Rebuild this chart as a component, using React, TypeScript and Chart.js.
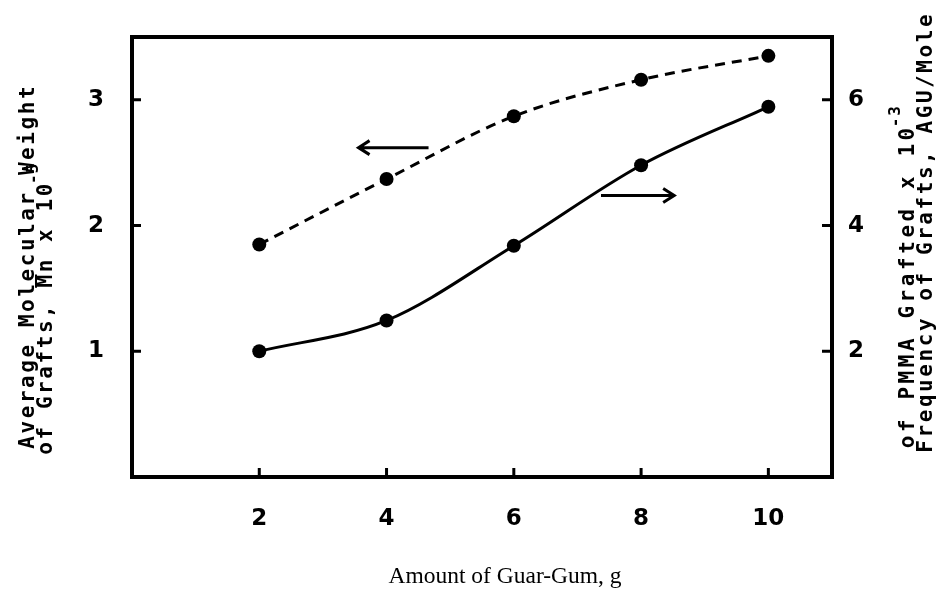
import { useEffect, useRef } from "react";
import { Chart, registerables } from "chart.js";

Chart.register(...registerables);

// Amount of guar gum (g)
const guarGum = [2, 4, 6, 8, 10];
// Average molecular weight of grafts, Mn x 10^-5 (left axis, dashed)
const molWeight = [1.85, 2.37, 2.87, 3.16, 3.35];
// Frequency of grafts, AGU/mole of PMMA grafted x 10^-3 (right axis, solid)
const graftFreq = [2.0, 2.49, 3.68, 4.96, 5.89];

const xTicks = [2, 4, 6, 8, 10];
const leftTicks = [1, 2, 3];
const rightTicks = [2, 4, 6];

// Arrows telling which axis each curve belongs to: [xFrom, xTo, y]
const leftArrow = [4.66, 3.56, 2.62];
const rightArrow = [7.37, 8.52, 4.48];

const INK = "#000";
const TYPE_FONT = '"DejaVu Sans Mono", "Liberation Mono", monospace';
const TICK_FONT = '"DejaVu Sans", "Liberation Sans", sans-serif';

function drawSpaced(
  ctx: CanvasRenderingContext2D,
  text: string,
  startX: number,
  pitch: number
) {
  for (let i = 0; i < text.length; i++) {
    ctx.fillText(text[i], startX + i * pitch + pitch / 2, 0);
  }
  return startX + text.length * pitch;
}

// Rotated (bottom-to-top) typewriter-style title line with optional superscript
function verticalLine(
  ctx: CanvasRenderingContext2D,
  text: string,
  sup: string,
  cx: number,
  bottomY: number,
  pitch: number,
  overbarAt = -1
) {
  ctx.save();
  ctx.translate(cx, bottomY);
  ctx.rotate(-Math.PI / 2);
  ctx.font = `bold 21px ${TYPE_FONT}`;
  ctx.textAlign = "center";
  ctx.textBaseline = "middle";
  ctx.fillStyle = INK;
  const end = drawSpaced(ctx, text, 0, pitch);
  if (overbarAt >= 0) {
    ctx.strokeStyle = INK;
    ctx.lineWidth = 2;
    ctx.beginPath();
    ctx.moveTo(overbarAt * pitch + 1, -11);
    ctx.lineTo(overbarAt * pitch + pitch - 1, -11);
    ctx.stroke();
  }
  if (sup) {
    ctx.font = `bold 16px ${TYPE_FONT}`;
    ctx.save();
    ctx.translate(0, -13);
    drawSpaced(ctx, sup, end - 2, pitch * 0.7);
    ctx.restore();
  }
  ctx.restore();
}

const decorations = {
  id: "frameAndLabels",
  afterDraw(chart: any) {
    const { ctx, chartArea: a, scales } = chart;
    const sx = scales.x;
    const sl = scales.y;
    const sr = scales.y1;
    ctx.save();
    ctx.strokeStyle = INK;
    ctx.fillStyle = INK;
    ctx.lineCap = "butt";

    // frame
    ctx.lineWidth = 4;
    ctx.strokeRect(a.left, a.top, a.right - a.left, a.bottom - a.top);

    // inward tick marks
    ctx.lineWidth = 3;
    ctx.beginPath();
    for (const v of xTicks) {
      const px = sx.getPixelForValue(v);
      ctx.moveTo(px, a.bottom);
      ctx.lineTo(px, a.bottom - 9);
    }
    for (const v of leftTicks) {
      const py = sl.getPixelForValue(v);
      ctx.moveTo(a.left, py);
      ctx.lineTo(a.left + 9, py);
    }
    for (const v of rightTicks) {
      const py = sr.getPixelForValue(v);
      ctx.moveTo(a.right, py);
      ctx.lineTo(a.right - 10, py);
    }
    ctx.stroke();

    // tick labels
    ctx.font = `bold 23px ${TICK_FONT}`;
    ctx.textAlign = "center";
    ctx.textBaseline = "middle";
    for (const v of xTicks) {
      ctx.fillText(String(v), sx.getPixelForValue(v), a.bottom + 42);
    }
    for (const v of leftTicks) {
      ctx.fillText(String(v), a.left - 36, sl.getPixelForValue(v));
    }
    for (const v of rightTicks) {
      ctx.fillText(String(v), a.right + 24, sr.getPixelForValue(v));
    }

    // arrows
    const arrow = (x0: number, x1: number, y: number) => {
      ctx.lineWidth = 3;
      ctx.beginPath();
      ctx.moveTo(x0, y);
      ctx.lineTo(x1, y);
      const dir = Math.sign(x1 - x0);
      ctx.moveTo(x1 - dir * 11, y - 7);
      ctx.lineTo(x1, y);
      ctx.lineTo(x1 - dir * 11, y + 7);
      ctx.stroke();
    };
    arrow(
      sx.getPixelForValue(leftArrow[0]),
      sx.getPixelForValue(leftArrow[1]),
      sl.getPixelForValue(leftArrow[2])
    );
    arrow(
      sx.getPixelForValue(rightArrow[0]),
      sx.getPixelForValue(rightArrow[1]),
      sr.getPixelForValue(rightArrow[2])
    );

    // x axis title
    ctx.font = `23.5px "Liberation Serif", "DejaVu Serif", serif`;
    ctx.textAlign = "center";
    ctx.textBaseline = "middle";
    ctx.fillText("Amount of Guar-Gum, g", 505, a.bottom + 100);

    // left axis title
    verticalLine(ctx, "Average Molecular Weight", "", 29, 450, 15.2);
    verticalLine(ctx, "of Grafts, Mn x 10", "-5", 47, 456, 15.2, 11);

    // right axis title
    verticalLine(ctx, "Frequency of Grafts, AGU/Mole", "", 927, 454, 15.2);
    verticalLine(ctx, "of PMMA Grafted x 10", "-3", 909, 450, 16.2);

    ctx.restore();
  },
};

export default function App() {
  const ref = useRef<HTMLCanvasElement | null>(null);

  useEffect(() => {
    if (!ref.current) return;
    const chart = new Chart(ref.current, {
      type: "line",
      data: {
        datasets: [
          {
            label: "Mn x 10^-5",
            data: guarGum.map((x, i) => ({ x, y: molWeight[i] })),
            yAxisID: "y",
            borderColor: INK,
            backgroundColor: INK,
            borderWidth: 3,
            borderDash: [10, 7],
            pointRadius: 7,
            pointBorderWidth: 0,
            cubicInterpolationMode: "monotone",
            fill: false,
          },
          {
            label: "Frequency of grafts",
            data: guarGum.map((x, i) => ({ x, y: graftFreq[i] })),
            yAxisID: "y1",
            borderColor: INK,
            backgroundColor: INK,
            borderWidth: 3,
            pointRadius: 7,
            pointBorderWidth: 0,
            cubicInterpolationMode: "monotone",
            fill: false,
          },
        ],
      },
      options: {
        responsive: false,
        animation: false,
        layout: { padding: { left: 132, right: 112, top: 37, bottom: 118 } },
        plugins: {
          legend: { display: false },
          tooltip: { enabled: false },
        },
        scales: {
          x: { type: "linear", min: 0, max: 11, display: false },
          y: { type: "linear", min: 0, max: 3.5, display: false },
          y1: { type: "linear", min: 0, max: 7, display: false, position: "right" },
        },
      },
      plugins: [decorations],
    });
    return () => chart.destroy();
  }, []);

  return (
    <div style={{ position: "fixed", left: 0, top: 0, width: 944, height: 595, background: "#fff" }}>
      <canvas ref={ref} width={944} height={595} style={{ width: 944, height: 595 }} />
    </div>
  );
}
